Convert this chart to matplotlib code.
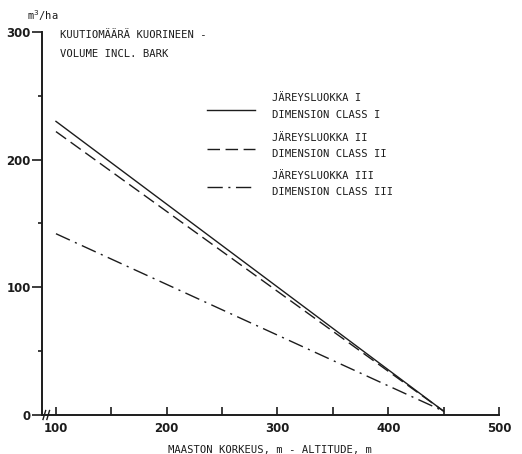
import matplotlib.pyplot as plt
from matplotlib.ticker import MultipleLocator

# altitude (m) and volume incl. bark (m3/ha) for each dimension class
altitude = [100, 450]
class1 = [230, 3]
class2 = [222, 3]
class3 = [142, 3]

line_labels = [("JÄREYSLUOKKA I", "DIMENSION CLASS I"),
               ("JÄREYSLUOKKA II", "DIMENSION CLASS II"),
               ("JÄREYSLUOKKA III", "DIMENSION CLASS III")]

ink = "#1c1c1c"
mono = "DejaVu Sans Mono"

fig = plt.figure(figsize=(5.22, 4.54), dpi=100)
ax = fig.add_axes([42 / 522, 1 - 415 / 454, 457 / 522, 383 / 454])

styles = [dict(linestyle="-"),
          dict(linestyle=(0, (9, 4))),
          dict(linestyle=(0, (11, 4, 1.5, 4)))]
series = [class1, class2, class3]

for vals, st in zip(series, styles):
    ax.plot(altitude, vals, color=ink, linewidth=1.0, **st)

ax.set_xlim(87.4, 500)
ax.set_ylim(0, 300)

for s in ["top", "right"]:
    ax.spines[s].set_visible(False)
for s in ["left", "bottom"]:
    ax.spines[s].set_linewidth(1.4)
    ax.spines[s].set_color(ink)

ax.set_xticks([100, 200, 300, 400, 500])
ax.xaxis.set_minor_locator(MultipleLocator(50))
ax.set_yticks([0, 100, 200, 300])
ax.yaxis.set_minor_locator(MultipleLocator(50))
ax.tick_params(axis="x", which="both", direction="in", length=6, width=1.2,
               color=ink, labelsize=8.5, pad=5)
ax.tick_params(axis="y", which="major", direction="out", length=7, width=1.2,
               color=ink, labelsize=8.5, pad=1)
ax.tick_params(axis="y", which="minor", direction="out", length=3, width=1.2,
               color=ink)
for lab in ax.get_xticklabels() + ax.get_yticklabels():
    lab.set_fontweight("bold")
    lab.set_color(ink)

# axis break marks near the origin
for x0 in (89.5, 93.0):
    ax.plot([x0 - 1.2, x0 + 1.2], [-3.5, 3.5], color=ink, lw=1.0, clip_on=False)

ax.set_xlabel("MAASTON KORKEUS, m - ALTITUDE, m", fontfamily=mono,
              fontsize=7.6, color=ink, labelpad=7)
ax.text(-0.033, 1.042, "m$^3$/ha", transform=ax.transAxes, fontfamily=mono,
        fontsize=7.6, color=ink, ha="left", va="center")

ax.text(103.6, 298, "KUUTIOMÄÄRÄ KUORINEEN -", fontfamily=mono, fontsize=7.6,
        color=ink, va="center")
ax.text(103.6, 282.5, "VOLUME INCL. BARK", fontfamily=mono, fontsize=7.6,
        color=ink, va="center")

# hand-drawn style key
key_y = [238.6, 208.7, 178.7]
text_y = [(248, 234.6), (217.3, 204.7), (187.4, 174.8)]
for st, ky, (ya, yb), (la, lb) in zip(styles, key_y, text_y, line_labels):
    ax.plot([236, 279.6], [ky, ky], color=ink, linewidth=1.0, **st)
    ax.text(295, ya, la, fontfamily=mono, fontsize=7.6, color=ink, va="center")
    ax.text(295, yb, lb, fontfamily=mono, fontsize=7.6, color=ink, va="center")

fig.savefig("out.png", dpi=100, facecolor="white")
